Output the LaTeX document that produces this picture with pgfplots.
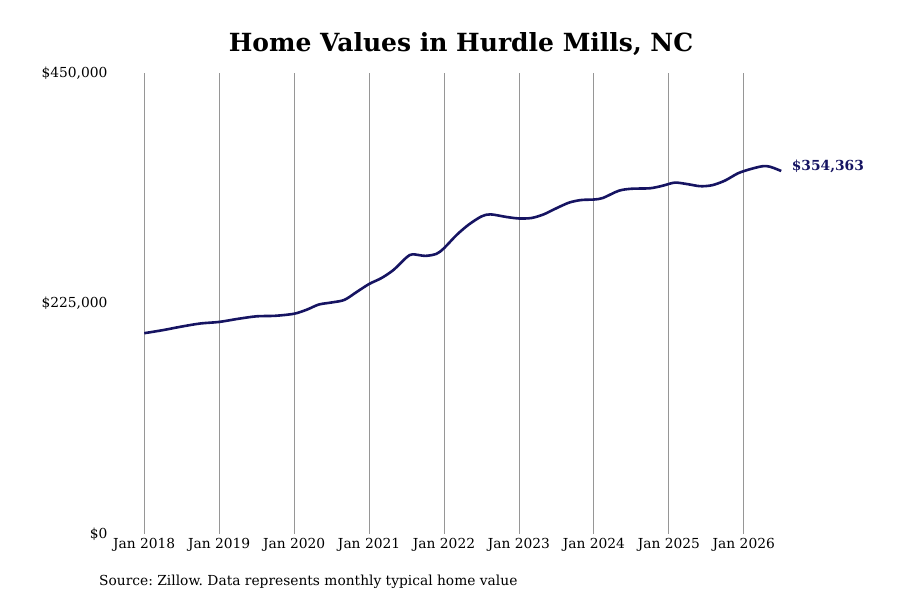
\documentclass[border=0pt]{standalone}
\usepackage{pgfplots}
\pgfplotsset{compat=1.18}
\usepackage{fontspec}
\setmainfont{DejaVu Serif}
\definecolor{navyline}{RGB}{22,20,98}
\definecolor{gridgray}{RGB}{150,150,150}
\begin{document}
\frenchspacing
\begin{tikzpicture}[x=1pt,y=1pt]
\path[use as bounding box] (0,0) rectangle (900,600);
\node[font=\bfseries\fontsize{25}{30}\selectfont] at (461,556) {Home Values in Hurdle Mills, NC};
\node[anchor=west,font=\fontsize{13.8}{16}\selectfont,inner sep=0pt] at (99,18) {Source: Zillow. Data represents monthly typical home value};
\begin{axis}[
  at={(112pt,66pt)}, anchor=south west,
  scale only axis, width=673pt, height=461pt,
  xmin=2017.57, xmax=2026.55,
  ymin=0, ymax=450000,
  axis line style={draw=none},
  major tick length=0pt,
  scaled y ticks=false,
  xtick={2018,2019,2020,2021,2022,2023,2024,2025,2026},
  xticklabels={Jan 2018,Jan 2019,Jan 2020,Jan 2021,Jan 2022,Jan 2023,Jan 2024,Jan 2025,Jan 2026},
  ytick={0,225000,450000},
  yticklabels={\$0,\$225{,}000,\$450{,}000},
  ticklabel style={font=\fontsize{13.8}{16}\selectfont},
  xticklabel style={yshift=-1pt},
  yticklabel style={xshift=-1pt},
  xmajorgrids,
  grid style={gridgray, line width=0.8pt},
  clip=false,
]
\addplot[navyline, line width=2.6pt, smooth, tension=0.5] coordinates {
(2018.00,196000)
(2018.25,199000)
(2018.50,202500)
(2018.75,205500)
(2019.00,207000)
(2019.25,210000)
(2019.50,212500)
(2019.75,213000)
(2020.00,215000)
(2020.17,219000)
(2020.33,224000)
(2020.50,226000)
(2020.67,228500)
(2020.83,236000)
(2021.00,244000)
(2021.17,250000)
(2021.33,258000)
(2021.50,270000)
(2021.58,273000)
(2021.75,271500)
(2021.90,273500)
(2022.00,279000)
(2022.17,292000)
(2022.33,302000)
(2022.50,310000)
(2022.62,312000)
(2022.83,309500)
(2023.00,308000)
(2023.17,308500)
(2023.33,312000)
(2023.50,318000)
(2023.67,323500)
(2023.83,326000)
(2024.00,326500)
(2024.12,328000)
(2024.33,335000)
(2024.50,337000)
(2024.75,337500)
(2024.92,340000)
(2025.08,343000)
(2025.25,341500)
(2025.42,339500)
(2025.58,340500)
(2025.75,345000)
(2025.92,352000)
(2026.08,356000)
(2026.25,359000)
(2026.35,358500)
(2026.50,354363)
} node[pos=1, anchor=west, xshift=6pt, yshift=5pt, text=navyline, font=\bfseries\fontsize{13.8}{16}\selectfont] {\$354,363};
\end{axis}
\end{tikzpicture}
\end{document}
